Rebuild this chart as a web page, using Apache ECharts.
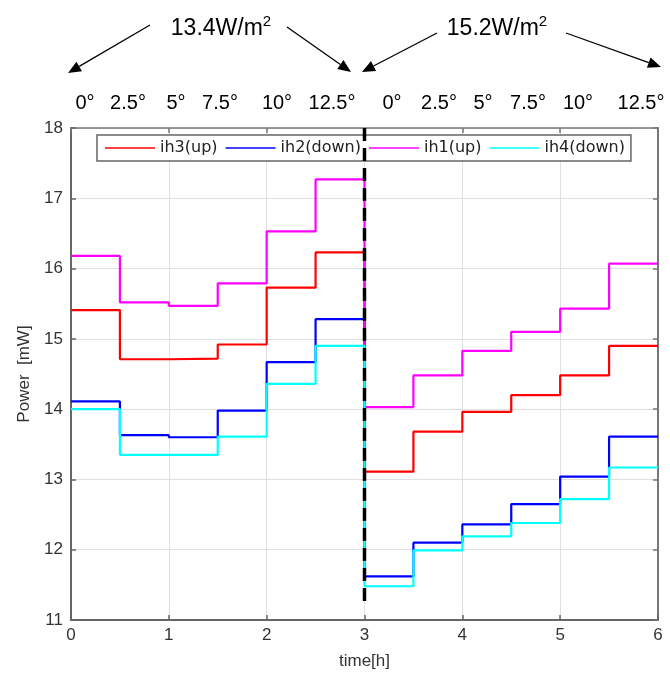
<!DOCTYPE html>
<html><head><meta charset="utf-8">
<script src="https://cdn.jsdelivr.net/npm/echarts@6/dist/echarts.min.js"></script>
<style>html,body{margin:0;padding:0;background:#fff}#c{width:670px;height:675px}</style>
</head><body><div id="c"></div>
<script>
// ---- data ----
const segmentStarts = [0, 0.5, 1, 1.5, 2, 2.5, 3, 3.5, 4, 4.5, 5, 5.5];
const endTime = 6;
const ih3 = [15.41, 14.71, 14.72, 14.92, 15.73, 16.23, 13.11, 13.68, 13.96, 14.20, 14.48, 14.90];
const ih2 = [14.11, 13.63, 13.60, 13.98, 14.67, 15.28, 11.62, 12.10, 12.36, 12.65, 13.04, 13.61];
const ih1 = [16.18, 15.52, 15.47, 15.79, 16.53, 17.27, 14.03, 14.48, 14.83, 15.10, 15.43, 16.07];
const ih4 = [14.00, 13.35, 13.35, 13.61, 14.36, 14.90, 11.48, 11.99, 12.19, 12.38, 12.72, 13.17];
const seriesNames = ['ih3(up)', 'ih2(down)', 'ih1(up)', 'ih4(down)'];
const angleLabels = ['0°', '2.5°', '5°', '7.5°', '10°', '12.5°', '0°', '2.5°', '5°', '7.5°', '10°', '12.5°'];
const irradianceValues = ['13.4', '15.2'];
const irradianceUnit = 'W/m';
const irradianceExp = '2';
const dividerTime = 3;
const dividerRange = [18, 11.17];

// ---- layout / style ----
const colors = ['#ff0000', '#0000ff', '#ff00ff', '#00ffff'];
const angleLabelX = [85, 128, 176, 220, 277, 332, 392, 439, 483, 528, 578, 641];
const irradianceX = [221, 497];
const arrows = [[150, 25, 68, 73], [287, 27, 351, 72], [437, 33, 362, 72], [566, 33, 661, 67]];

function stepData(vals) {
  const d = segmentStarts.map((t, i) => [t, vals[i]]);
  d.push([endTime, vals[vals.length - 1]]);
  return d;
}

function arrowGraphic(x1, y1, x2, y2) {
  const dx = x2 - x1, dy = y2 - y1, L = Math.hypot(dx, dy);
  const ux = dx / L, uy = dy / L, len = 13, hw = 5.5;
  const bx = x2 - ux * len, by = y2 - uy * len;
  return [
    { type: 'line', shape: { x1: x1, y1: y1, x2: bx, y2: by }, style: { stroke: '#000', lineWidth: 1.3 } },
    { type: 'polygon', shape: { points: [[x2, y2], [bx - uy * hw, by + ux * hw], [bx + uy * hw, by - ux * hw]] }, style: { fill: '#000' } }
  ];
}

const graphics = [];
arrows.forEach(a => graphics.push(...arrowGraphic(...a)));
irradianceValues.forEach((t, i) => graphics.push({
  type: 'text', x: irradianceX[i], y: 27,
  style: {
    text: '{m|' + t + irradianceUnit + '}{s|' + irradianceExp + '}',
    textAlign: 'center', textVerticalAlign: 'middle',
    rich: {
      m: { fontFamily: 'Liberation Sans', fontSize: 23, fill: '#000', color: '#000', verticalAlign: 'bottom', lineHeight: 26 },
      s: { fontFamily: 'Liberation Sans', fontSize: 15, fill: '#000', color: '#000', verticalAlign: 'top', lineHeight: 15 }
    }
  }
}));
angleLabels.forEach((t, i) => graphics.push({
  type: 'text', x: angleLabelX[i], y: 103,
  style: { text: t, fontFamily: 'Liberation Sans', fontSize: 20, fill: '#000', textAlign: 'center', textVerticalAlign: 'middle' }
}));

const chart = echarts.init(document.getElementById('c'), null, { renderer: 'canvas' });
const valsList = [ih3, ih2, ih1, ih4];
const series = valsList.map((v, i) => ({
  name: seriesNames[i], type: 'line', step: 'end', data: stepData(v),
  showSymbol: false, symbol: 'none', lineStyle: { color: colors[i], width: 2.2 }, itemStyle: { color: colors[i] },
  animation: false, z: 3
}));
series.push({
  name: 'divider', type: 'line', data: [[dividerTime, dividerRange[0]], [dividerTime, dividerRange[1]]],
  showSymbol: false, symbol: 'none', lineStyle: { color: '#000', width: 3.5, type: [13, 7] },
  animation: false, z: 10
});

const axisFont = { fontFamily: 'Liberation Sans', fontSize: 17, color: '#333' };
chart.setOption({
  animation: false,
  backgroundColor: '#fff',
  grid: { left: 71, right: 12, top: 128, bottom: 53, show: false },
  legend: {
    data: seriesNames.map((n, i) => ({ name: n, itemStyle: { color: colors[i] } })),
    left: 97, top: 135, width: 545,
    icon: 'rect', itemWidth: 50, itemHeight: 1.6, itemGap: 8,
    padding: [5, 6, 5, 8],
    borderColor: '#666', borderWidth: 1.5, backgroundColor: '#fff',
    textStyle: { fontFamily: 'DejaVu Sans', fontSize: 16, color: '#222' },
    z: 4
  },
  xAxis: [{
    type: 'value', min: 0, max: 6, interval: 1, position: 'bottom',
    name: 'time[h]', nameLocation: 'middle', nameGap: 33,
    nameTextStyle: { fontFamily: 'Liberation Sans', fontSize: 17, color: '#333' },
    axisLine: { show: true, lineStyle: { color: '#666', width: 2 } },
    axisTick: { show: true, inside: true, length: 5, lineStyle: { color: '#666', width: 1.5 } },
    axisLabel: Object.assign({ margin: 7 }, axisFont),
    splitLine: { show: true, lineStyle: { color: '#e0e0e0', width: 1 } }
  }, {
    type: 'value', min: 0, max: 6, interval: 1, position: 'top',
    axisLine: { show: true, onZero: false, lineStyle: { color: '#777', width: 1.5 } },
    axisTick: { show: true, inside: true, length: 5, lineStyle: { color: '#777', width: 1.5 } },
    axisLabel: { show: false }, splitLine: { show: false }
  }],
  yAxis: [{
    type: 'value', min: 11, max: 18, interval: 1, position: 'left',
    name: 'Power  [mW]', nameLocation: 'middle', nameGap: 34,
    nameTextStyle: { fontFamily: 'Liberation Sans', fontSize: 17, color: '#333' },
    axisLine: { show: true, onZero: false, lineStyle: { color: '#666', width: 2 } },
    axisTick: { show: true, inside: true, length: 5, lineStyle: { color: '#666', width: 1.5 } },
    axisLabel: Object.assign({ margin: 8 }, axisFont),
    splitLine: { show: true, lineStyle: { color: '#e0e0e0', width: 1 } }
  }, {
    type: 'value', min: 11, max: 18, interval: 1, position: 'right',
    axisLine: { show: true, onZero: false, lineStyle: { color: '#777', width: 2 } },
    axisTick: { show: true, inside: true, length: 5, lineStyle: { color: '#777', width: 1.5 } },
    axisLabel: { show: false }, splitLine: { show: false }
  }],
  series: series,
  graphic: graphics
});
</script>
</body></html>
